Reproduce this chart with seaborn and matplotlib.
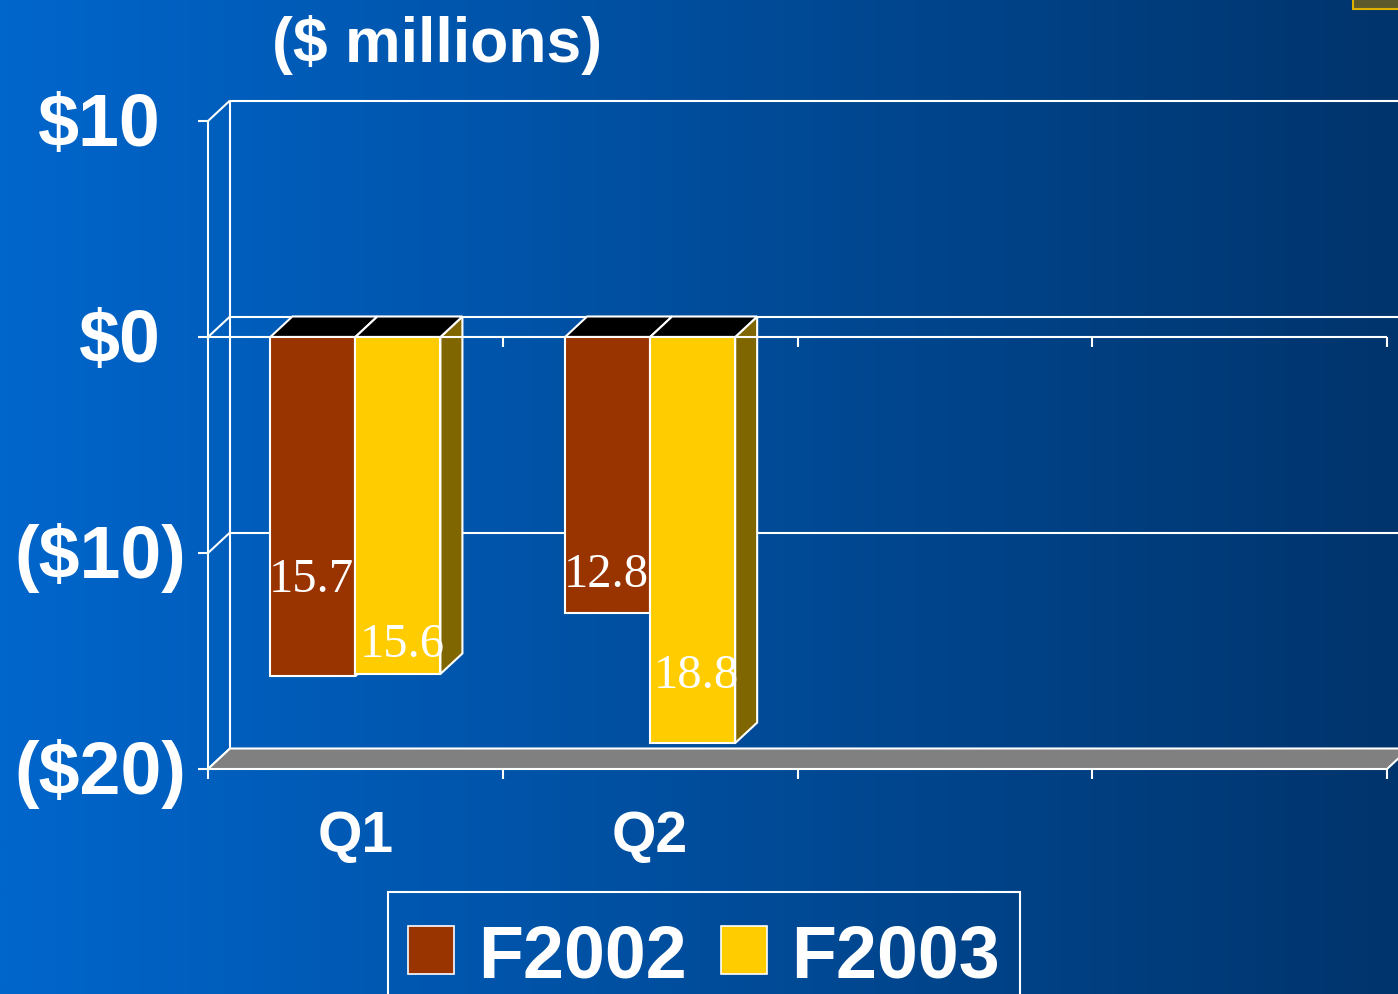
import numpy as np
import pandas as pd
import matplotlib
matplotlib.use("Agg")
import matplotlib.pyplot as plt
import matplotlib.patches as mpatches
from matplotlib.patches import Polygon, Rectangle
import seaborn as sns

# ---------------- data ----------------
quarters = ["Q1", "Q2"]
all_slots = ["Q1", "Q2", "Q3", "Q4"]
years = ["F2002", "F2003"]
loss_f2002 = [15.7, 12.8]
loss_f2003 = [15.6, 18.8]
y_ticks = [10, 0, -10, -20]
y_tick_labels = ["$10", "$0", "($10)", "($20)"]
title_text = "($ millions)"
bar_colors = {"F2002": "#993300", "F2003": "#FFCC00"}
side_color = "#806600"

# ---------------- figure ----------------
W, H = 1398, 995
sns.set_theme(style="white")
plt.rcParams["font.family"] = ["Liberation Sans", "DejaVu Sans"]

fig = plt.figure(figsize=(W / 100, H / 100), dpi=100)

# gradient background
bg = fig.add_axes([0, 0, 1, 1], zorder=-10)
g = np.linspace(0, 1, 600)[None, :, None]
c_left = np.array([0, 102, 204]) / 255
c_right = np.array([0, 52, 108]) / 255
img = c_left[None, None, :] * (1 - g) + c_right[None, None, :] * g
bg.imshow(img, aspect="auto", extent=[0, 1, 0, 1])
bg.set_axis_off()

# plotting axes = front plane of the 3-D box
ax = fig.add_axes([208 / W, 225 / H, 1179 / W, 648 / H])
ax.set_facecolor("none")

df = pd.DataFrame({
    "quarter": quarters * 2,
    "year": [years[0]] * len(quarters) + [years[1]] * len(quarters),
    "value": [-v for v in loss_f2002] + [-v for v in loss_f2003],
})

sns.barplot(data=df, x="quarter", y="value", hue="year", order=all_slots,
            hue_order=years, palette=bar_colors, saturation=1, width=0.577,
            gap=0, dodge=True, edgecolor="white", linewidth=1.5,
            errorbar=None, legend=False, ax=ax)
ax.set_xlim(-0.5, 3.5)
ax.set_ylim(-20, 10)
ax.set_axis_off()

# pixel -> data unit helpers
PXX = 4.0 / 1179.0      # data x per pixel
PXY = 30.0 / 648.0      # data y per pixel
dx = 22 * PXX           # depth offset
dy = 20.5 * PXY

LW = 1.5
WHITE = "white"

def line(xs, ys, z=1):
    ax.plot(xs, ys, color=WHITE, lw=LW, clip_on=False, zorder=z,
            solid_capstyle="butt")

x0, x1 = -0.5, 3.5
# back wall grid lines
for yv in [10, 0, -10]:
    line([x0 + dx, x1 + dx + 0.2], [yv + dy, yv + dy], z=1)
# left wall
line([x0, x0], [-20, 10], z=1)
line([x0 + dx, x0 + dx], [-20 + dy, 10 + dy], z=1)
for yv in y_ticks:
    line([x0, x0 + dx], [yv, yv + dy], z=1)
    line([x0 - 10 * PXX, x0], [yv, yv], z=1)

# floor
floor = Polygon([(x0, -20), (x1, -20), (x1 + dx, -20 + dy), (x0 + dx, -20 + dy)],
                closed=True, facecolor="#808080", edgecolor=WHITE, lw=LW,
                zorder=2, clip_on=False)
ax.add_patch(floor)
for k in range(5):
    xb = x0 + k
    line([xb, xb], [-20, -20 - 10 * PXY], z=2)

# front zero line with category ticks
line([x0, x1], [0, 0], z=4)
for k in range(1, 5):
    xb = x0 + k
    line([xb, xb], [0, -10 * PXY], z=4)

# 3-D faces of bars
bars = sorted([p for p in ax.patches if isinstance(p, Rectangle) and p.get_width() > 0
               and abs(p.get_height()) > 0], key=lambda p: p.get_x())
z = 3.0
for p in bars:
    bx0 = p.get_x()
    bx1 = bx0 + p.get_width()
    bot = min(p.get_y(), p.get_y() + p.get_height())
    side = Polygon([(bx1, 0), (bx1 + dx, dy), (bx1 + dx, bot + dy), (bx1, bot)],
                   closed=True, facecolor=side_color, edgecolor=WHITE, lw=LW,
                   zorder=z, clip_on=False)
    ax.add_patch(side)
    z += 0.01
    top = Polygon([(bx0, 0), (bx1, 0), (bx1 + dx, dy), (bx0 + dx, dy)],
                  closed=True, facecolor="black", edgecolor=WHITE, lw=LW,
                  zorder=z, clip_on=False)
    ax.add_patch(top)
    z += 0.01
    p.set_zorder(5)
    p.set_clip_on(False)

# value labels
label_base = {(0, 0): -11.76, (0, 1): -14.77, (1, 0): -11.53, (1, 1): -16.2}
label_shift = {0: -1.5 * PXX, 1: 4 * PXX}
series = [loss_f2002, loss_f2003]
for p in bars:
    cx = p.get_x() + p.get_width() / 2
    qi = int(round(cx))
    hi = 0 if cx < qi else 1
    ax.text(cx + label_shift[hi], label_base[(qi, hi)], f"{series[hi][qi]:.1f}",
            ha="center", va="baseline", color="white", fontsize=35,
            family=["Liberation Serif", "DejaVu Serif"], zorder=6)

# y tick labels (accounting style alignment)
for yv, lab in zip(y_ticks, y_tick_labels):
    xr = -0.5 - 22 * PXX
    if not lab.endswith(")"):
        xr -= 25 * PXX
    ax.text(xr, yv - 24 * PXY, lab, ha="right", va="baseline", color="white",
            fontsize=53, fontweight="bold", clip_on=False)

# category labels
for i, q in enumerate(quarters):
    ax.text(i, -20 - 82 * PXY, q, ha="center", va="baseline", color="white",
            fontsize=41, fontweight="bold", clip_on=False)

# title
fig.text(437.5 / W, 1 - 62 / H, title_text, ha="center", va="baseline",
         color="white", fontsize=45, fontweight="bold")

# legend (frame drawn separately so the content can sit a little lower)
handles = [mpatches.Patch(facecolor=bar_colors[y], edgecolor="white",
                          linewidth=1.2, label=y) for y in years]
leg = fig.legend(handles=handles, loc="upper center",
                 bbox_to_anchor=(704 / W, 1 - 901 / H), ncol=2, frameon=False,
                 prop=dict(weight="bold", size=53), handlelength=0.625,
                 handleheight=0.625, handletextpad=0.33, columnspacing=0.46,
                 borderpad=0.3, labelcolor="white", borderaxespad=0)
fig.patches.append(Rectangle((388 / W, -10 / H), 632 / W, (995 - 893 + 10) / H,
                             transform=fig.transFigure, facecolor="none",
                             edgecolor="white", lw=1.5))

# small picture corner at top right
fig.patches.append(Rectangle((1353 / W, 1 - 10 / H), 50 / W, 12 / H,
                             transform=fig.transFigure, facecolor="#5e5a2c",
                             edgecolor="#e0b000", lw=1.5))

fig.savefig("out.png", dpi=100)
